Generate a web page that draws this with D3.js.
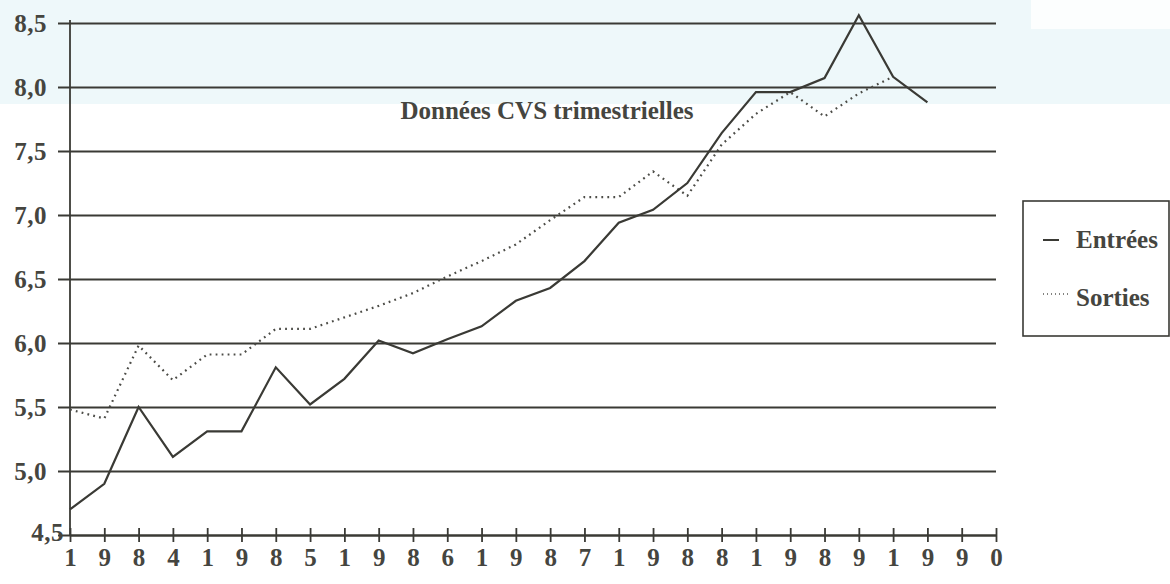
<!DOCTYPE html>
<html>
<head>
<meta charset="utf-8">
<script src="https://cdn.jsdelivr.net/npm/d3@7"></script>
<style>
  body { margin: 0; background: #fff; }
  svg text { font-family: "Liberation Serif", "DejaVu Serif", serif; font-weight: bold; fill: #45453f; }
</style>
</head>
<body>
<div id="chart"></div>
<script>
const years = [1984, 1985, 1986, 1987, 1988, 1989, 1990];
const quarterLabels = years.flatMap(y => String(y).split(''));

const yTicks = [4.5, 5.0, 5.5, 6.0, 6.5, 7.0, 7.5, 8.0, 8.5];

// quarterly seasonally adjusted values, 1984 Q1 onward
const entrees = [4.70, 4.90, 5.50, 5.11, 5.31, 5.31, 5.81, 5.52, 5.72, 6.02, 5.92, 6.03, 6.13,
  6.33, 6.43, 6.64, 6.94, 7.04, 7.25, 7.64, 7.96, 7.96, 8.07, 8.56, 8.08, 7.88];
const sorties = [5.48, 5.41, 5.98, 5.71, 5.91, 5.91, 6.11, 6.11, 6.20, 6.29, 6.39, 6.52, 6.64,
  6.77, 6.96, 7.14, 7.14, 7.34, 7.15, 7.55, 7.79, 7.96, 7.77, 7.95, 8.08];

const seriesNames = ['Entrées', 'Sorties'];
const title = 'Données CVS trimestrielles';

const width = 1170, height = 584;
const ink = '#3a3a35';

const svg = d3.select('#chart').append('svg')
  .attr('width', width)
  .attr('height', height);

// scanned paper tint at the top
svg.append('rect').attr('x', 0).attr('y', 0).attr('width', width).attr('height', 104).attr('fill', '#eef8fa');
svg.append('rect').attr('x', 1031).attr('y', 0).attr('width', 139).attr('height', 29).attr('fill', '#fcfefe');

const x = d3.scaleLinear().domain([0, quarterLabels.length - 1]).range([70, 996]);
const y = d3.scaleLinear().domain([4.5, 8.5]).range([535, 23]);

const gridLeft = 58;

// horizontal rules + y labels
const yAxis = svg.append('g')
  .attr('class', 'y-axis')
  .attr('transform', 'translate(' + gridLeft + ',0)')
  .call(d3.axisLeft(y).tickValues(yTicks)
    .tickFormat(d => d3.format('.1f')(d).replace('.', ','))
    .tickSizeInner(-(x.range()[1] - gridLeft)).tickSizeOuter(0).tickPadding(11));

yAxis.select('.domain').remove();
yAxis.selectAll('.tick line').attr('stroke', ink).attr('stroke-width', 1.8);
yAxis.selectAll('.tick text')
  .attr('font-size', 25)
  .attr('letter-spacing', 0.5)
  .attr('fill', '#45453f');
yAxis.selectAll('.tick').filter(d => d === 4.5).select('text').attr('x', 6).attr('dy', '0.2em');

// vertical axis
svg.append('line')
  .attr('x1', x(0)).attr('x2', x(0))
  .attr('y1', y(8.5) - 3).attr('y2', y(4.5))
  .attr('stroke', ink).attr('stroke-width', 1.8);

// x axis with crossing ticks
const xAxis = svg.append('g')
  .attr('class', 'x-axis')
  .attr('transform', 'translate(0,' + y(4.5) + ')')
  .call(d3.axisBottom(x).tickValues(d3.range(quarterLabels.length))
    .tickFormat(i => quarterLabels[i]).tickSizeOuter(0));

xAxis.select('.domain').attr('stroke', ink).attr('stroke-width', 2);
xAxis.selectAll('.tick line').attr('y1', -7).attr('y2', 7).attr('stroke', ink).attr('stroke-width', 1.8);
xAxis.selectAll('.tick text')
  .attr('y', 31)
  .attr('dy', 0)
  .attr('font-size', 25)
  .attr('fill', '#45453f');

const line = d3.line()
  .x((d, i) => x(i))
  .y(d => y(d));

svg.append('path')
  .datum(sorties)
  .attr('fill', 'none')
  .attr('stroke', '#4c4c47')
  .attr('stroke-width', 2.2)
  .attr('stroke-dasharray', '1.8,4.2')
  .attr('d', line);

svg.append('path')
  .datum(entrees)
  .attr('fill', 'none')
  .attr('stroke', ink)
  .attr('stroke-width', 2.2)
  .attr('d', line);

svg.append('text')
  .attr('x', 547)
  .attr('y', 119)
  .attr('text-anchor', 'middle')
  .attr('font-size', 25)
  .attr('fill', '#3c3c36')
  .text(title);

/* legend */
const legend = svg.append('g').attr('transform', 'translate(1023,201)');
legend.append('rect')
  .attr('width', 146).attr('height', 135)
  .attr('fill', '#fff')
  .attr('stroke', ink).attr('stroke-width', 1.6);

const legendItems = legend.selectAll('.item').data(seriesNames).enter()
  .append('g').attr('class', 'item')
  .attr('transform', (d, i) => 'translate(0,' + (39 + i * 58) + ')');

legendItems.append('line')
  .attr('x1', 20).attr('x2', (d, i) => i === 0 ? 36 : 45)
  .attr('y1', (d, i) => i === 0 ? 0 : -4).attr('y2', (d, i) => i === 0 ? 0 : -4)
  .attr('stroke', (d, i) => i === 0 ? ink : '#5a5a55')
  .attr('stroke-width', (d, i) => i === 0 ? 2 : 1.4)
  .attr('stroke-dasharray', (d, i) => i === 0 ? null : '1,3');

legendItems.append('text')
  .attr('x', 53)
  .attr('y', 8)
  .attr('font-size', 25)
  .attr('fill', '#45453f')
  .text(d => d);
</script>
</body>
</html>
